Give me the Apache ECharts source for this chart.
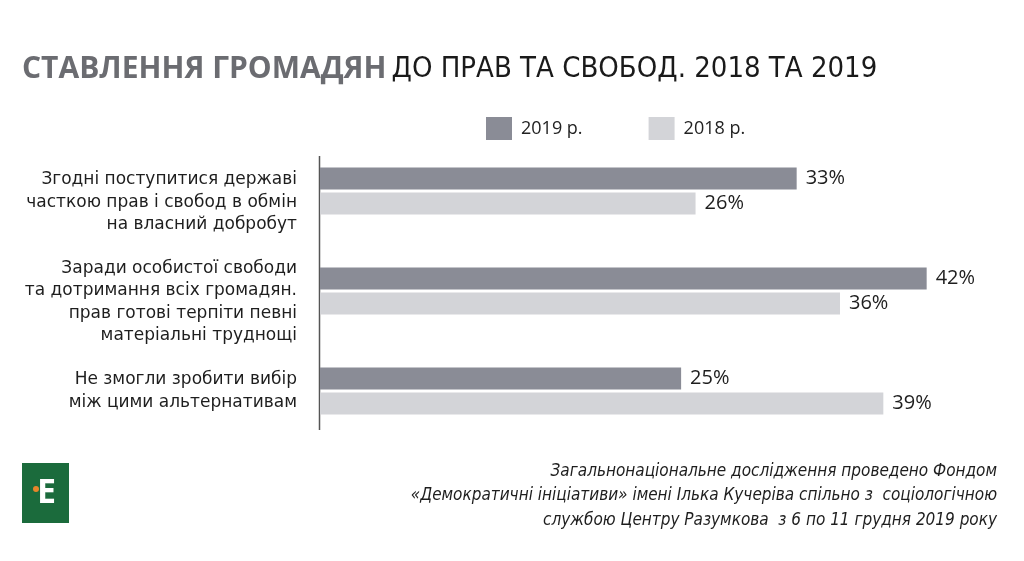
<!DOCTYPE html>
<html><head><meta charset="utf-8">
<script src="https://cdn.jsdelivr.net/npm/echarts@6/dist/echarts.min.js"></script>
<style>html,body{margin:0;padding:0;background:#fff}#c{width:1024px;height:561px}</style>
</head><body><div id="c"></div>
<script>
var categories = [
  "Згодні поступитися державі\nчасткою прав і свобод в обмін\nна власний добробут",
  "Заради особистої свободи\nта дотримання всіх громадян.\nправ готові терпіти певні\nматеріальні труднощі",
  "Не змогли зробити вибір\nміж цими альтернативам"
];
var seriesNames = ["2019 р.", "2018 р."];
var values2019 = [33, 42, 25];
var values2018 = [26, 36, 39];

var shiftDown = [true, true, false];
var chart = echarts.init(document.getElementById('c'));
var labelFont = '"DejaVu Sans", sans-serif';
var valueFont = '"Open Sans", "Noto Sans", sans-serif';
chart.setOption({
  backgroundColor: '#ffffff',
  animation: false,
  title: {
    left: 22, top: 54, padding: 0,
    text: '{b|СТАВЛЕННЯ ГРОМАДЯН} {r|ДО ПРАВ ТА СВОБОД. 2018 ТА 2019}',
    textStyle: {
      rich: {
        b: { fontFamily: '"Open Sans", sans-serif', fontWeight: 'bold', fontSize: 30, color: '#6b6c71' },
        r: { fontFamily: '"DejaVu Sans Condensed", sans-serif', fontWeight: 'normal', fontSize: 29, color: '#1a1a1a' }
      }
    }
  },
  legend: {
    left: 486, top: 117, padding: 0,
    itemWidth: 26, itemHeight: 23, itemGap: 66,
    icon: 'rect',
    textStyle: { fontFamily: valueFont, fontSize: 18, color: '#222', padding: [0,0,0,4] },
    data: seriesNames
  },
  grid: { left: 320, right: 54, top: 141, bottom: 120, containLabel: false },
  xAxis: { type: 'value', min: 0, max: 45, show: false },
  yAxis: {
    type: 'category', inverse: true, data: categories,
    axisLine: { show: false }, axisTick: { show: false }, splitLine: { show: false },
    axisLabel: {
      interval: 0, hideOverlap: false,
      margin: 23, fontFamily: labelFont, fontSize: 17, color: '#1e1e1e',
      lineHeight: 22.5, align: 'right',
      formatter: function (v, i) { return (shiftDown[i] ? '\n' : '') + v; }
    }
  },
  graphic: [
    { type: 'line', shape: { x1: 319.5, y1: 156, x2: 319.5, y2: 430 }, style: { stroke: '#555', lineWidth: 1.5 } },
    { type: 'rect', shape: { x: 22, y: 463, width: 47, height: 60 }, style: { fill: '#1b6b3c' } },
    { type: 'text', left: 37, top: 476, style: { text: 'E', fill: '#ffffff', fontSize: 34, fontWeight: 'bold', fontFamily: '"Open Sans", sans-serif' } },
    { type: 'circle', shape: { cx: 36, cy: 489, r: 3 }, style: { fill: '#e8852a' } },
    { type: 'text', x: 997, y: 459,
      style: {
        text: 'Загальнонаціональне дослідження проведено Фондом\n«Демократичні ініціативи» імені Ілька Кучеріва спільно з  соціологічною\nслужбою Центру Разумкова  з 6 по 11 грудня 2019 року',
        align: 'right', fill: '#1e1e1e', fontSize: 17, fontStyle: 'italic', lineHeight: 24.5,
        fontFamily: '"DejaVu Sans Condensed", sans-serif'
      }
    }
  ],
  series: [
    {
      name: seriesNames[0], type: 'bar', data: values2019, barWidth: 22, barGap: '14%',
      itemStyle: { color: '#8a8c96' },
      label: { show: true, position: 'right', distance: 9, formatter: '{c}%', fontFamily: valueFont, fontSize: 20, color: '#1e1e1e' }
    },
    {
      name: seriesNames[1], type: 'bar', data: values2018, barWidth: 22, barGap: '14%',
      itemStyle: { color: '#d3d4d8' },
      label: { show: true, position: 'right', distance: 9, formatter: '{c}%', fontFamily: valueFont, fontSize: 20, color: '#1e1e1e' }
    }
  ]
});
</script></body></html>
